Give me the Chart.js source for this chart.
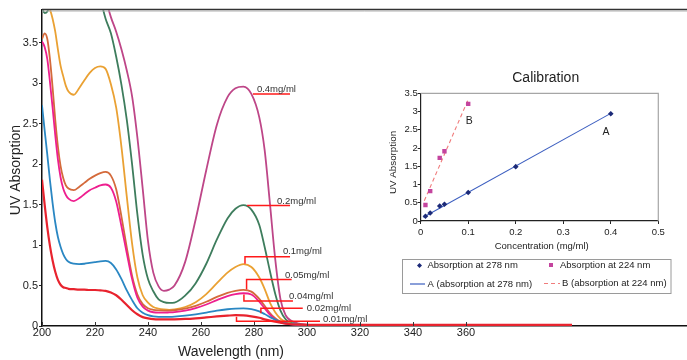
<!DOCTYPE html>
<html>
<head>
<meta charset="utf-8">
<title>UV Absorption</title>
<script src="https://cdn.jsdelivr.net/npm/chart.js@4/dist/chart.umd.min.js"></script>
<style>
    html, body { margin: 0; padding: 0; background: #fff; }
    #wrap { position: relative; width: 687px; height: 360px; }
    #main { position: absolute; left: 0; top: 0; }
    #inset { position: absolute; left: 380px; top: 60px; }
</style>
</head>
<body>
<div id="wrap">
    <canvas id="main" width="687" height="360"></canvas>
    <canvas id="inset" width="307" height="240"></canvas>
</div>
<script>
// ---- data: spectra ----
const wavelengths = [200, 201, 202, 203, 204, 205, 206, 207, 208, 209, 210,
    212, 214, 216, 218, 220, 222, 224, 226, 228, 230, 232, 234, 236, 238, 240, 242, 244, 246, 248, 250,
    254, 258, 262, 266, 270, 273, 276, 279, 282, 284, 286, 288, 290, 292, 294,
    297, 300, 305, 310, 320, 340, 360, 380, 400];

const concLabels = ['0.01mg/ml', '0.02mg/ml', '0.04mg/ml', '0.05mg/ml', '0.1mg/ml', '0.2mg/ml', '0.4mg/ml'];

const abs001 = [1.81, 1.50, 1.22, 0.99, 0.81, 0.67, 0.57, 0.51, 0.48, 0.47, 0.46,
    0.455, 0.45, 0.45, 0.445, 0.445, 0.44, 0.435, 0.415, 0.38, 0.325, 0.26, 0.195, 0.145, 0.11, 0.095, 0.085, 0.082, 0.082, 0.082, 0.083,
    0.087, 0.095, 0.106, 0.118, 0.128, 0.134, 0.132, 0.12, 0.102, 0.082, 0.066, 0.052, 0.04, 0.03, 0.022,
    0.017, 0.015, 0.014, 0.013, 0.013, 0.013, 0.013, 0.013, 0.013];
const abs002 = [2.73, 2.42, 2.12, 1.80, 1.52, 1.28, 1.10, 0.98, 0.89, 0.83, 0.795,
    0.77, 0.765, 0.77, 0.78, 0.79, 0.80, 0.805, 0.78, 0.70, 0.58, 0.44, 0.32, 0.22, 0.165, 0.135, 0.12, 0.113, 0.112, 0.113, 0.116,
    0.128, 0.145, 0.165, 0.19, 0.207, 0.215, 0.218, 0.208, 0.18, 0.148, 0.11, 0.078, 0.052, 0.035, 0.024,
    0.016, 0.012, 0.009, 0.008, 0.007, 0.006, 0.006, 0.006, 0.005];
const abs004 = [3.52, 3.45, 3.30, 3.02, 2.70, 2.36, 2.06, 1.84, 1.70, 1.62, 1.575,
    1.545, 1.58, 1.63, 1.68, 1.71, 1.74, 1.75, 1.71, 1.54, 1.23, 0.90, 0.58, 0.35, 0.24, 0.19, 0.17, 0.165, 0.165, 0.168, 0.172,
    0.19, 0.222, 0.266, 0.32, 0.37, 0.395, 0.405, 0.39, 0.30, 0.22, 0.14, 0.08, 0.045, 0.028, 0.02,
    0.014, 0.011, 0.009, 0.008, 0.007, 0.006, 0.006, 0.006, 0.005];
const abs005 = [3.55, 3.62, 3.55, 3.30, 2.95, 2.55, 2.22, 1.98, 1.83, 1.74, 1.70,
    1.68, 1.72, 1.77, 1.82, 1.86, 1.89, 1.905, 1.86, 1.69, 1.35, 0.97, 0.62, 0.39, 0.27, 0.22, 0.20, 0.192, 0.19, 0.19, 0.195,
    0.215, 0.25, 0.30, 0.36, 0.41, 0.435, 0.447, 0.425, 0.335, 0.25, 0.16, 0.095, 0.055, 0.033, 0.022,
    0.015, 0.012, 0.009, 0.008, 0.007, 0.006, 0.006, 0.006, 0.005];
const abs01 = [4.05, 4.1, 4.05, 3.92, 3.80, 3.64, 3.42, 3.22, 3.09, 2.97, 2.90,
    2.86, 2.94, 3.04, 3.13, 3.19, 3.21, 3.18, 2.99, 2.70, 2.21, 1.60, 1.02, 0.60, 0.38, 0.29, 0.235, 0.215, 0.205, 0.20, 0.205,
    0.235, 0.295, 0.395, 0.53, 0.66, 0.73, 0.765, 0.73, 0.60, 0.46, 0.29, 0.17, 0.09, 0.05, 0.03,
    0.018, 0.013, 0.009, 0.008, 0.007, 0.006, 0.006, 0.006, 0.005];
const abs02 = [3.93, 3.87, 3.89, 3.98, 4.1, 4.2, 4.3, 4.3, 4.3, 4.3, 4.3,
    4.3, 4.3, 4.3, 4.3, 4.3, 4.05, 3.80, 3.62, 3.33, 2.98, 2.55, 2.0, 1.38, 0.88, 0.58, 0.43, 0.33, 0.295, 0.285, 0.29,
    0.375, 0.53, 0.77, 1.07, 1.33, 1.45, 1.495, 1.44, 1.25, 0.98, 0.68, 0.40, 0.19, 0.08, 0.04,
    0.02, 0.014, 0.009, 0.008, 0.007, 0.006, 0.006, 0.006, 0.005];
const abs04 = [4.3, 4.3, 4.3, 4.3, 4.3, 4.3, 4.3, 4.3, 4.3, 4.3, 4.3,
    4.3, 4.3, 4.3, 4.3, 4.3, 4.3, 4.05, 3.82, 3.64, 3.42, 3.16, 2.84, 2.33, 1.70, 1.05, 0.66, 0.49, 0.435, 0.45, 0.50,
    0.79, 1.32, 1.93, 2.49, 2.83, 2.94, 2.96, 2.87, 2.58, 2.18, 1.52, 0.83, 0.33, 0.13, 0.065,
    0.03, 0.018, 0.011, 0.009, 0.008, 0.007, 0.006, 0.006, 0.005];

const spectra = [abs001, abs002, abs004, abs005, abs01, abs02, abs04];

// label anchors and leader lines, in wavelength / absorbance units
const labelAnchors = [[306.0, 0.083], [299.9, 0.222], [293.2, 0.37], [291.7, 0.63], [290.9, 0.92], [288.7, 1.54], [281.1, 2.93]];
const leaderLines = [
    [[273.4, 0.115], [273.4, 0.058], [304.9, 0.058]],
    [[282.6, 0.157], [282.6, 0.219], [298.4, 0.219]],
    [[276.2, 0.39], [276.2, 0.31], [294.7, 0.31]],
    [[277.2, 0.45], [277.2, 0.575], [294.2, 0.575]],
    [[276.6, 0.77], [276.6, 0.855], [293.6, 0.855]],
    [[277.4, 1.49], [293.6, 1.49]],
    [[279.6, 2.87], [293.6, 2.87]]
];

const mainXTicks = [200, 220, 240, 260, 280, 300, 320, 340, 360];
const mainYTicks = [0, 0.5, 1, 1.5, 2, 2.5, 3, 3.5];

// ---- data: calibration ----
const conc278 = [0.01, 0.02, 0.04, 0.05, 0.1, 0.2, 0.4];
const abs278 = [0.13, 0.22, 0.41, 0.46, 0.78, 1.49, 2.94];
const conc224 = [0.01, 0.02, 0.04, 0.05, 0.1];
const abs224 = [0.44, 0.82, 1.73, 1.91, 3.21];
const trendA = [[0.0055, 0.10], [0.4, 2.95]];
const trendB = [[0.0076, 0.556], [0.1, 3.33]];
const insetXTicks = [0, 0.1, 0.2, 0.3, 0.4, 0.5];
const insetYTicks = [0, 0.5, 1, 1.5, 2, 2.5, 3, 3.5];

const FONT = '"Liberation Sans", Arial, Helvetica, sans-serif';
Chart.defaults.font.family = FONT;
Chart.defaults.color = '#222';

const curveColors = ['#e8232e', '#2a87c3', '#ee1f8f', '#d46a3b', '#eaa133', '#3e7d5d', '#be4688'];

function drawText(ctx, str, x, y, size, opts = {}) {
    ctx.save();
    ctx.font = `${size}px ${FONT}`;
    ctx.fillStyle = opts.color || '#222';
    ctx.textAlign = opts.align || 'center';
    ctx.textBaseline = 'middle';
    ctx.translate(x, y);
    if (opts.rotate) ctx.rotate(opts.rotate);
    ctx.fillText(str, 0, 0);
    ctx.restore();
}

const toPts = (xs, ys) => xs.map((x, i) => ({ x: x, y: ys[i] }));
const fixTicks = list => scale => { scale.ticks = list.map(v => ({ value: v })); };

const mainDecor = {
    id: 'mainDecor',
    afterDatasetsDraw(chart) {
        const { ctx, scales: { x, y } } = chart;
        ctx.save();
        ctx.strokeStyle = '#ff1a1a';
        ctx.lineWidth = 1.5;
        leaderLines.forEach(line => {
            ctx.beginPath();
            line.forEach(([w, a], i) => {
                const px = x.getPixelForValue(w), py = y.getPixelForValue(a);
                if (i === 0) ctx.moveTo(px, py); else ctx.lineTo(px, py);
            });
            ctx.stroke();
        });
        ctx.restore();
        concLabels.forEach((t, i) => {
            const [w, a] = labelAnchors[i];
            drawText(ctx, t, x.getPixelForValue(w), y.getPixelForValue(a), 9.5, { align: 'left', color: '#333' });
        });
    },
    afterDraw(chart) {
        const { ctx, chartArea: area, scales: { x } } = chart;
        ctx.save();
        // top frame line
        ctx.strokeStyle = '#333';
        ctx.lineWidth = 1.5;
        ctx.beginPath();
        ctx.moveTo(area.left, area.top - 0.5);
        ctx.lineTo(area.right, area.top - 0.5);
        ctx.stroke();
        ctx.strokeStyle = '#b0b0b0';
        ctx.lineWidth = 1;
        ctx.beginPath();
        ctx.moveTo(area.left, area.top + 1);
        ctx.lineTo(area.right, area.top + 1);
        ctx.stroke();
        // inward x tick marks
        ctx.strokeStyle = '#333';
        ctx.lineWidth = 1;
        mainXTicks.forEach(v => {
            const px = Math.round(x.getPixelForValue(v)) + 0.5;
            ctx.beginPath();
            ctx.moveTo(px, area.bottom);
            ctx.lineTo(px, area.bottom - 4);
            ctx.stroke();
        });
        ctx.restore();
        drawText(ctx, 'UV Absorption', 16, 170, 14, { rotate: -Math.PI / 2 });
        drawText(ctx, 'Wavelength (nm)', 231, 352.5, 14);
    }
};

new Chart(document.getElementById('main'), {
    type: 'line',
    data: {
        datasets: spectra.map((vals, i) => ({
            label: concLabels[i],
            data: toPts(wavelengths, vals),
            borderColor: curveColors[i],
            borderWidth: i === 0 ? 2.2 : 1.8,
            pointRadius: 0,
            cubicInterpolationMode: 'monotone',
            fill: false
        }))
    },
    options: {
        responsive: false,
        animation: false,
        layout: { padding: { top: 10, left: 0, right: 0, bottom: 0 } },
        plugins: { legend: { display: false }, tooltip: { enabled: false } },
        scales: {
            x: {
                type: 'linear',
                min: 200,
                max: 443.4,
                afterBuildTicks: fixTicks(mainXTicks),
                afterFit: s => { s.height = 34; },
                grid: { display: false, drawTicks: false },
                border: { color: '#111', width: 1.5 },
                ticks: { padding: 0, font: { size: 11 }, color: '#222', maxRotation: 0, callback: v => String(v) }
            },
            y: {
                min: 0,
                max: 3.908,
                afterBuildTicks: fixTicks(mainYTicks),
                afterFit: s => { s.width = 42; },
                grid: { drawOnChartArea: false, drawTicks: true, tickLength: 3, color: '#222' },
                border: { color: '#111', width: 1.5 },
                ticks: { padding: 1, font: { size: 11 }, color: '#222', callback: v => String(v) }
            }
        }
    },
    plugins: [mainDecor]
});

// ---- inset: calibration ----
const insetDecor = {
    id: 'insetDecor',
    afterDraw(chart) {
        const { ctx, chartArea: area, scales: { x, y } } = chart;
        const ds = chart.data.datasets;
        ctx.save();
        ctx.strokeStyle = '#a6a6a6';
        ctx.lineWidth = 1.2;
        ctx.beginPath();
        ctx.moveTo(area.left, area.top);
        ctx.lineTo(area.right, area.top);
        ctx.lineTo(area.right, area.bottom);
        ctx.stroke();
        ctx.restore();

        drawText(ctx, 'Calibration', 165.7, 18.3, 14);
        drawText(ctx, 'UV Absorption', 13.3, 102.5, 9.8, { rotate: -Math.PI / 2 });
        drawText(ctx, 'Concentration (mg/ml)', 161.7, 186.7, 9.5);
        drawText(ctx, 'A', x.getPixelForValue(0.39), y.getPixelForValue(2.45), 10.5);
        drawText(ctx, 'B', x.getPixelForValue(0.1023), y.getPixelForValue(2.75), 10.5);

        // legend box
        ctx.save();
        ctx.strokeStyle = '#9a9a9a';
        ctx.lineWidth = 1;
        ctx.strokeRect(22.5, 199.5, 268.5, 34);
        // diamond
        ctx.fillStyle = ds[0].backgroundColor;
        ctx.beginPath();
        ctx.moveTo(39.5, 203); ctx.lineTo(42, 205.5); ctx.lineTo(39.5, 208); ctx.lineTo(37, 205.5);
        ctx.closePath();
        ctx.fill();
        // square
        ctx.fillStyle = ds[1].backgroundColor;
        ctx.fillRect(169, 203, 4, 4);
        // line A
        ctx.strokeStyle = ds[2].borderColor;
        ctx.lineWidth = 1.2;
        ctx.beginPath(); ctx.moveTo(30, 224); ctx.lineTo(45, 224); ctx.stroke();
        // dashed B
        ctx.strokeStyle = ds[3].borderColor;
        ctx.setLineDash(ds[3].borderDash);
        ctx.beginPath(); ctx.moveTo(164, 223.5); ctx.lineTo(180, 223.5); ctx.stroke();
        ctx.restore();
        drawText(ctx, ds[0].label, 47.5, 205.7, 9.5, { align: 'left' });
        drawText(ctx, ds[1].label, 180, 205, 9.5, { align: 'left' });
        drawText(ctx, ds[2].label, 47.5, 224, 9.5, { align: 'left' });
        drawText(ctx, ds[3].label, 182, 223.3, 9.5, { align: 'left' });
    }
};

new Chart(document.getElementById('inset'), {
    type: 'scatter',
    data: {
        datasets: [
            { label: 'Absorption at 278 nm', data: toPts(conc278, abs278), pointStyle: 'rectRot', pointRadius: 2.8,
              backgroundColor: '#1c2a78', borderColor: '#1c2a78', borderWidth: 0, showLine: false },
            { label: 'Absorption at 224 nm', data: toPts(conc224, abs224), pointStyle: 'rect', pointRadius: 3.1,
              backgroundColor: '#c4449e', borderColor: '#c4449e', borderWidth: 0, showLine: false },
            { label: 'A (absorption at 278 nm)', data: trendA.map(([x, y]) => ({ x, y })), showLine: true,
              borderColor: '#3d5fc0', borderWidth: 1.1, pointRadius: 0 },
            { label: 'B (absorption at 224 nm)', data: trendB.map(([x, y]) => ({ x, y })), showLine: true,
              borderColor: '#f07c7c', borderWidth: 1.1, borderDash: [4, 3], pointRadius: 0 }
        ]
    },
    options: {
        responsive: false,
        animation: false,
        layout: { padding: { top: 33.3, left: 0, right: 28.7, bottom: 0 } },
        plugins: { legend: { display: false }, tooltip: { enabled: false } },
        scales: {
            x: {
                type: 'linear',
                min: 0,
                max: 0.5,
                afterBuildTicks: fixTicks(insetXTicks),
                afterFit: s => { s.height = 79; },
                grid: { drawOnChartArea: false, drawTicks: true, tickLength: 3, color: '#222' },
                border: { color: '#222', width: 1.2 },
                ticks: { padding: 3, font: { size: 9.5 }, color: '#222', maxRotation: 0, callback: v => String(v) }
            },
            y: {
                min: 0,
                max: 3.5,
                afterBuildTicks: fixTicks(insetYTicks),
                afterFit: s => { s.width = 40.7; },
                grid: { drawOnChartArea: false, drawTicks: true, tickLength: 3, color: '#222' },
                border: { color: '#222', width: 1.2 },
                ticks: { padding: 0, font: { size: 9.5 }, color: '#222', callback: v => String(v) }
            }
        }
    },
    plugins: [insetDecor]
});
</script>
</body>
</html>
